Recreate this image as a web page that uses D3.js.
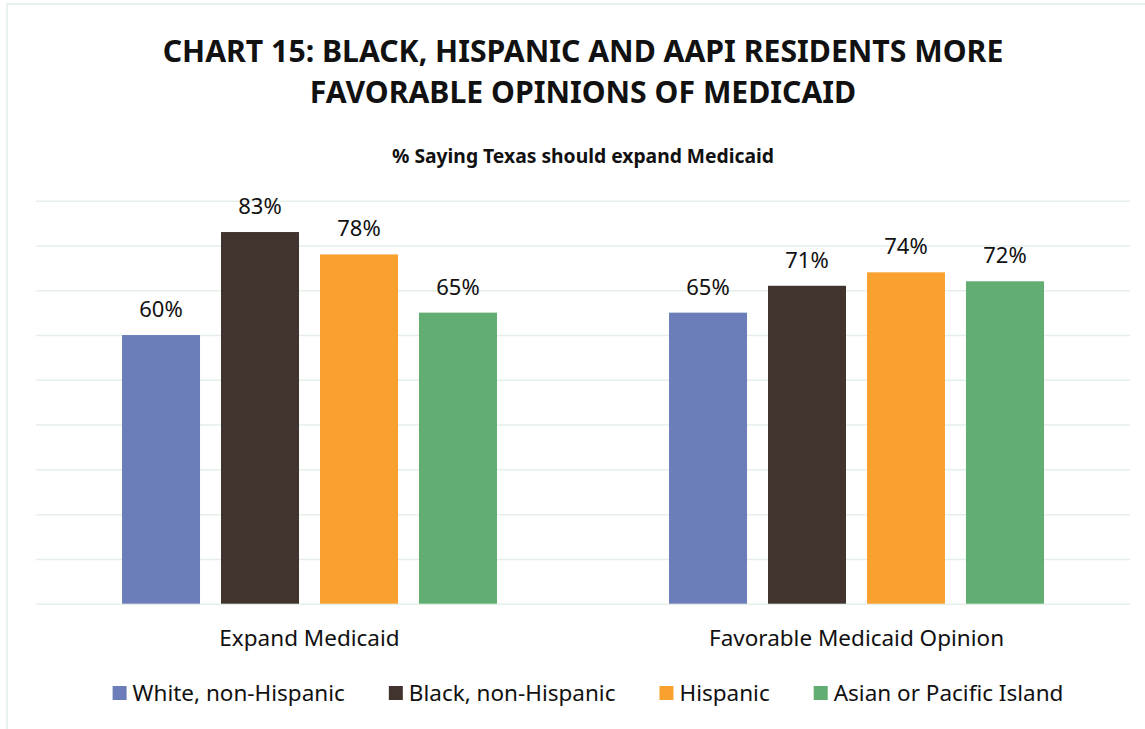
<html>
  <head>
    <meta charset="utf-8"/>
    <style>
      body { margin: 0; background: #fff; }
      text { font-family: "Noto Sans", "Open Sans", sans-serif; fill: #111; }
    </style>
  </head>
  <body>
    <svg></svg>
  </body>
  <script src="https://d3js.org/d3.v7.min.js"></script>
  <script>
  var categories = ["Expand Medicaid", "Favorable Medicaid Opinion"]
  var seriesNames = ["White, non-Hispanic", "Black, non-Hispanic", "Hispanic", "Asian or Pacific Island"]
  var seriesColors = ["#6c7eb9", "#41342f", "#f8a12f", "#62ad72"]
  var white = [60, 65]
  var black = [83, 71]
  var hispanic = [78, 74]
  var asian = [65, 72]
  var yTicks = [0, 10, 20, 30, 40, 50, 60, 70, 80, 90]
  var titleLines = ["CHART 15: BLACK, HISPANIC AND AAPI RESIDENTS MORE", "FAVORABLE OPINIONS OF MEDICAID"]
  var subtitle = "% Saying Texas should expand Medicaid"

  var W = 1145, H = 729
  var margin = {top: 200.7, right: 15, bottom: 125.3, left: 36}
  var width = W - margin.left - margin.right
  var height = H - margin.top - margin.bottom

  var series = [white, black, hispanic, asian]
  var data = categories.map(function(c, i) {
    return {cat: c, values: series.map(function(s, j) { return {key: seriesNames[j], value: s[i]} })}
  })

  var svg = d3.select("svg").attr("width", W).attr("height", H)

  // outer frame
  svg.append("rect")
    .attr("x", 7).attr("y", 4).attr("width", W + 10).attr("height", H + 10)
    .attr("fill", "none").attr("stroke", "#e2eee6").attr("stroke-width", 1.5)

  var chart = svg.append("g")
    .attr("transform", "translate(" + margin.left + "," + margin.top + ")")

  var y = d3.scaleLinear().domain([0, 90]).range([height, 0])
  var x0 = d3.scaleBand().domain(categories).range([0, width]).padding(0)
  var x1 = d3.scaleBand().domain(seriesNames).range([0, x0.bandwidth()])
    .paddingInner(0.212).paddingOuter(0.869)
  var color = d3.scaleOrdinal().domain(seriesNames).range(seriesColors)

  // gridlines
  var grid = chart.append("g")
    .call(d3.axisLeft(y).tickValues(yTicks).tickSize(-width).tickFormat(""))
  grid.select(".domain").remove()
  grid.selectAll("line").attr("stroke", "#e3efe7").attr("stroke-width", 1.5)

  var group = chart.selectAll(".grp")
    .data(data)
    .enter().append("g")
    .attr("class", "grp")
    .attr("transform", function(d) { return "translate(" + x0(d.cat) + ",0)" })

  group.selectAll("rect")
    .data(function(d) { return d.values })
    .enter().append("rect")
    .attr("x", function(d) { return x1(d.key) })
    .attr("y", function(d) { return y(d.value) })
    .attr("width", x1.bandwidth())
    .attr("height", function(d) { return height - y(d.value) })
    .attr("fill", function(d) { return color(d.key) })

  group.selectAll(".lbl")
    .data(function(d) { return d.values })
    .enter().append("text")
    .attr("class", "lbl")
    .attr("x", function(d) { return x1(d.key) + x1.bandwidth() / 2 })
    .attr("y", function(d) { return y(d.value) - 18 })
    .attr("text-anchor", "middle")
    .style("font-size", "22px")
    .text(function(d) { return d.value + "%" })

  // category axis
  var xAxis = chart.append("g")
    .attr("transform", "translate(0," + height + ")")
    .call(d3.axisBottom(x0).tickSize(0).tickPadding(0))
  xAxis.select(".domain").remove()
  xAxis.selectAll("text")
    .attr("dy", 0).attr("y", 42)
    .style("font-size", "22.5px")
    .style("font-family", "'Noto Sans', sans-serif")
    .attr("fill", "#111")

  // title
  var cx = margin.left + width / 2
  svg.selectAll(".title")
    .data(titleLines)
    .enter().append("text")
    .attr("class", "title")
    .attr("x", cx)
    .attr("y", function(d, i) { return 62 + i * 41 })
    .attr("text-anchor", "middle")
    .style("font-size", "30.2px")
    .style("font-weight", "bold")
    .text(function(d) { return d })

  svg.append("text")
    .attr("x", cx).attr("y", 163)
    .attr("text-anchor", "middle")
    .style("font-size", "19.3px")
    .style("font-weight", "bold")
    .text(subtitle)

  // legend
  var legend = svg.append("g")
  var gap = 44
  var lx = 0
  seriesNames.forEach(function(name) {
    var it = legend.append("g").attr("transform", "translate(" + lx + ",0)")
    it.append("rect").attr("x", 0).attr("y", -15).attr("width", 14).attr("height", 14)
      .attr("fill", color(name))
    var t = it.append("text").attr("x", 20).attr("y", 0)
      .style("font-size", "22.5px").text(name)
    lx += 20 + t.node().getComputedTextLength() + gap
  })
  lx -= gap
  legend.attr("transform", "translate(" + (588 - lx / 2) + ",701)")
  </script>
</html>
